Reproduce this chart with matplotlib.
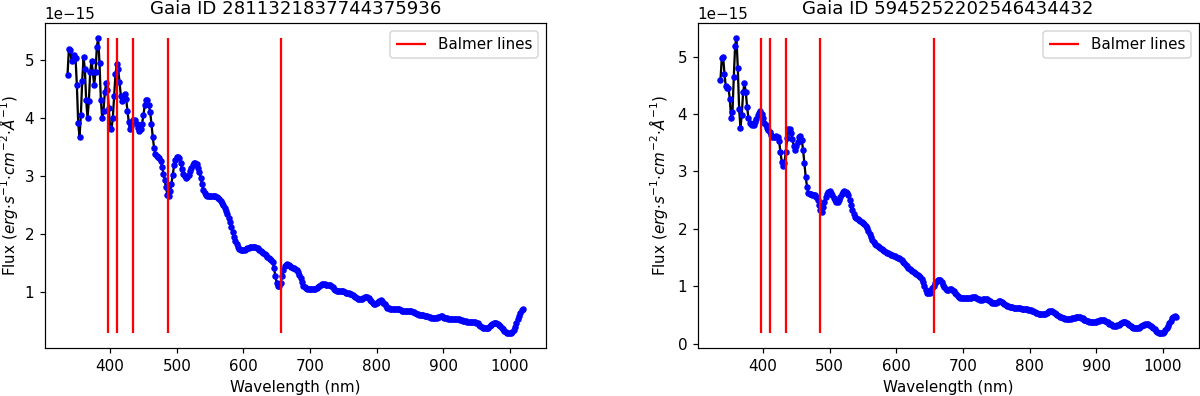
import numpy as np
import matplotlib
matplotlib.use("Agg")
import matplotlib.pyplot as plt

# Gaia XP sampling grid (nm)
wavelength = np.arange(336, 1022, 2)

# flux in units of 1e-15 erg/s/cm^2/A
flux_1 = [
    4.74, 5.18, 5.17, 4.98, 5.00, 5.08, 5.03, 4.56, 3.91, 3.67,
    4.04, 4.63, 5.04, 4.84, 4.30, 4.00, 4.28, 4.78, 4.98, 4.78,
    4.57, 4.78, 5.22, 5.37, 4.94, 4.31, 4.00, 4.12, 4.44, 4.59,
    4.48, 4.16, 3.82, 3.80, 4.00, 4.38, 4.75, 4.92, 4.84, 4.62,
    4.38, 4.28, 4.34, 4.40, 4.32, 4.12, 3.92, 3.80, 3.86, 3.96,
    3.94, 3.96, 3.90, 3.82, 3.78, 3.80, 3.90, 4.05, 4.22, 4.30,
    4.30, 4.22, 4.10, 3.90, 3.66, 3.48, 3.38, 3.34, 3.33, 3.31,
    3.26, 3.16, 3.04, 2.92, 2.80, 2.67, 2.66, 2.74, 2.86, 3.02,
    3.18, 3.28, 3.33, 3.33, 3.30, 3.22, 3.12, 3.04, 2.99, 2.97,
    2.98, 3.02, 3.08, 3.14, 3.19, 3.22, 3.22, 3.20, 3.14, 3.06,
    2.96, 2.86, 2.76, 2.70, 2.67, 2.65, 2.65, 2.65, 2.65, 2.66,
    2.66, 2.65, 2.64, 2.62, 2.60, 2.57, 2.54, 2.50, 2.45, 2.40,
    2.34, 2.27, 2.20, 2.12, 2.03, 1.95, 1.88, 1.82, 1.77, 1.74,
    1.72, 1.72, 1.72, 1.73, 1.74, 1.75, 1.76, 1.77, 1.78, 1.78,
    1.78, 1.77, 1.76, 1.75, 1.73, 1.71, 1.69, 1.67, 1.65, 1.63,
    1.61, 1.59, 1.57, 1.55, 1.52, 1.42, 1.28, 1.16, 1.11, 1.10,
    1.16, 1.28, 1.38, 1.44, 1.47, 1.48, 1.47, 1.45, 1.43, 1.42,
    1.41, 1.40, 1.38, 1.34, 1.30, 1.24, 1.17, 1.11, 1.08, 1.07,
    1.06, 1.05, 1.05, 1.05, 1.05, 1.05, 1.06, 1.07, 1.09, 1.11,
    1.13, 1.14, 1.14, 1.14, 1.13, 1.13, 1.13, 1.12, 1.10, 1.08,
    1.06, 1.04, 1.02, 1.01, 1.01, 1.02, 1.02, 1.01, 1.00, 0.99,
    0.99, 0.98, 0.97, 0.96, 0.95, 0.93, 0.91, 0.89, 0.88, 0.88,
    0.88, 0.88, 0.89, 0.91, 0.92, 0.92, 0.90, 0.87, 0.84, 0.81,
    0.80, 0.80, 0.81, 0.83, 0.85, 0.86, 0.85, 0.82, 0.79, 0.76,
    0.73, 0.72, 0.71, 0.70, 0.70, 0.70, 0.71, 0.71, 0.71, 0.70,
    0.69, 0.68, 0.68, 0.68, 0.68, 0.68, 0.68, 0.68, 0.67, 0.66,
    0.65, 0.64, 0.63, 0.62, 0.61, 0.61, 0.60, 0.60, 0.59, 0.58,
    0.58, 0.57, 0.57, 0.56, 0.56, 0.56, 0.56, 0.56, 0.57, 0.57,
    0.58, 0.58, 0.57, 0.56, 0.55, 0.55, 0.54, 0.53, 0.53, 0.53,
    0.53, 0.53, 0.53, 0.53, 0.53, 0.52, 0.52, 0.51, 0.50, 0.50,
    0.49, 0.48, 0.48, 0.48, 0.48, 0.48, 0.48, 0.47, 0.46, 0.44,
    0.42, 0.40, 0.39, 0.38, 0.38, 0.38, 0.39, 0.41, 0.43, 0.45,
    0.46, 0.46, 0.46, 0.45, 0.44, 0.42, 0.39, 0.36, 0.33, 0.31,
    0.30, 0.29, 0.29, 0.30, 0.32, 0.35, 0.40, 0.46, 0.53, 0.59,
    0.64, 0.69, 0.71,
]

flux_2 = [
    4.59, 4.98, 4.99, 4.70, 4.48, 4.46, 4.46, 4.26, 3.93, 4.03,
    4.64, 5.19, 5.32, 4.80, 4.09, 3.76, 3.99, 4.38, 4.53, 4.38,
    4.12, 3.93, 3.85, 3.82, 3.80, 3.80, 3.86, 3.92, 3.98, 4.02,
    4.05, 4.00, 3.93, 3.85, 3.80, 3.76, 3.72, 3.68, 3.64, 3.59,
    3.59, 3.60, 3.61, 3.59, 3.53, 3.34, 3.17, 3.09, 3.15, 3.33,
    3.58, 3.74, 3.74, 3.66, 3.56, 3.45, 3.38, 3.44, 3.52, 3.60,
    3.62, 3.55, 3.38, 3.14, 2.90, 2.73, 2.62, 2.60, 2.60, 2.59,
    2.59, 2.58, 2.55, 2.50, 2.42, 2.32, 2.30, 2.38, 2.47, 2.56,
    2.60, 2.64, 2.65, 2.63, 2.58, 2.54, 2.50, 2.47, 2.47, 2.50,
    2.55, 2.60, 2.64, 2.65, 2.64, 2.62, 2.58, 2.51, 2.42, 2.32,
    2.26, 2.21, 2.19, 2.17, 2.15, 2.14, 2.12, 2.10, 2.08, 2.05,
    2.01, 1.96, 1.91, 1.86, 1.81, 1.77, 1.74, 1.72, 1.70, 1.68,
    1.67, 1.65, 1.63, 1.61, 1.60, 1.58, 1.57, 1.56, 1.55, 1.54,
    1.53, 1.52, 1.51, 1.50, 1.49, 1.47, 1.45, 1.43, 1.40, 1.37,
    1.35, 1.32, 1.30, 1.28, 1.26, 1.25, 1.23, 1.22, 1.20, 1.18,
    1.16, 1.13, 1.08, 1.00, 0.93, 0.89, 0.88, 0.89, 0.93, 0.97,
    1.01, 1.05, 1.08, 1.10, 1.11, 1.10, 1.07, 1.03, 0.99, 0.96,
    0.94, 0.94, 0.95, 0.95, 0.94, 0.92, 0.89, 0.86, 0.83, 0.81,
    0.80, 0.79, 0.79, 0.79, 0.79, 0.80, 0.80, 0.80, 0.80, 0.81,
    0.81, 0.81, 0.80, 0.78, 0.77, 0.76, 0.76, 0.77, 0.78, 0.78,
    0.78, 0.76, 0.74, 0.72, 0.71, 0.70, 0.70, 0.71, 0.72, 0.74,
    0.74, 0.73, 0.71, 0.69, 0.67, 0.66, 0.65, 0.64, 0.63, 0.63,
    0.62, 0.62, 0.62, 0.62, 0.62, 0.62, 0.61, 0.61, 0.61, 0.60,
    0.60, 0.59, 0.59, 0.58, 0.57, 0.56, 0.55, 0.54, 0.53, 0.52,
    0.52, 0.51, 0.51, 0.51, 0.52, 0.53, 0.55, 0.56, 0.56, 0.56,
    0.55, 0.53, 0.51, 0.50, 0.48, 0.47, 0.46, 0.45, 0.44, 0.43,
    0.43, 0.43, 0.43, 0.43, 0.44, 0.45, 0.45, 0.46, 0.46, 0.46,
    0.46, 0.45, 0.44, 0.42, 0.41, 0.40, 0.39, 0.38, 0.37, 0.37,
    0.37, 0.38, 0.38, 0.39, 0.40, 0.41, 0.41, 0.41, 0.41, 0.40,
    0.38, 0.37, 0.35, 0.34, 0.32, 0.31, 0.31, 0.31, 0.32, 0.33,
    0.35, 0.36, 0.37, 0.37, 0.37, 0.36, 0.34, 0.32, 0.30, 0.29,
    0.28, 0.28, 0.28, 0.28, 0.28, 0.29, 0.30, 0.32, 0.33, 0.34,
    0.34, 0.34, 0.32, 0.31, 0.29, 0.27, 0.25, 0.22, 0.20, 0.19,
    0.18, 0.18, 0.18, 0.20, 0.23, 0.27, 0.31, 0.36, 0.40, 0.44,
    0.47, 0.48, 0.47,
]

gaia_ids = ['2811321837744375936', '5945252202546434432']
balmer = [397.0, 410.2, 434.0, 486.1, 656.3]

# the reference looks like a ~1.087x upscale of a 100 dpi figure
dpi = 108.7
fig, axes = plt.subplots(1, 2, figsize=(1200 / dpi, 396 / dpi), dpi=dpi)
fig.subplots_adjust(left=0.0373, right=0.999, bottom=0.121, top=0.941, wspace=0.303)

for ax, gid, f, lx in zip(axes, gaia_ids, [flux_1, flux_2], [-0.05, -0.056]):
    flux = np.array(f) * 1e-15
    ax.plot(wavelength, flux, color='k', zorder=1)
    ax.plot(wavelength, flux, 'o', color='b', markersize=4.3, markeredgewidth=0, zorder=2)
    ax.vlines(balmer, flux.min(), flux.max(), colors='r', label='Balmer lines', zorder=3)
    ax.set_xlabel('Wavelength (nm)')
    ax.set_ylabel(r'Flux ($erg{\cdot}s^{-1}{\cdot}cm^{-2}{\cdot}Å^{-1}$)')
    ax.yaxis.set_label_coords(lx, 0.5)
    ax.set_title('Gaia ID ' + gid)
    ax.legend(loc='upper right')

plt.savefig('out.png', dpi=dpi)
